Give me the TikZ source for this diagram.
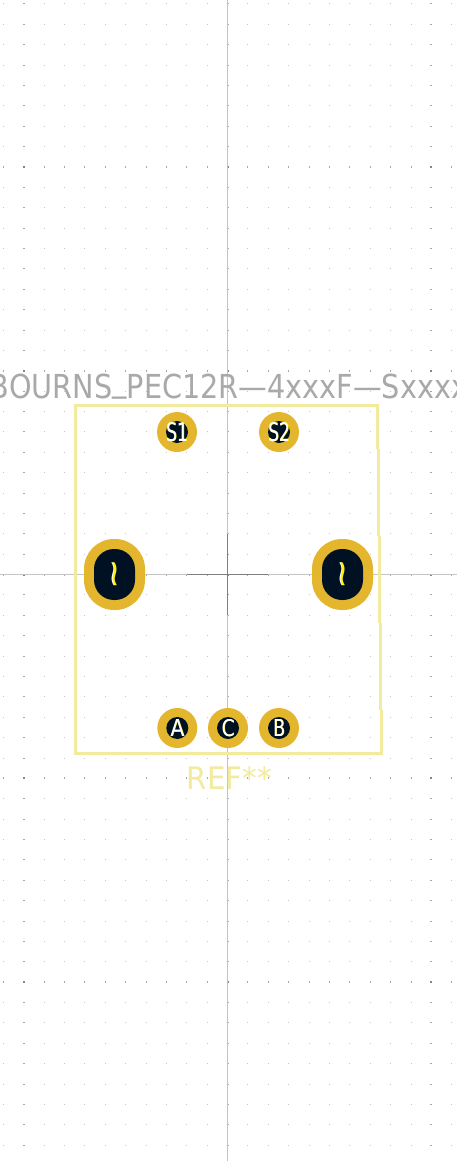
\documentclass[tikz,border=0pt]{standalone}
\usepackage{fontspec}
\setmainfont{DejaVu Sans}
\definecolor{gridc}{HTML}{C8C8C8}
\definecolor{gridm}{HTML}{A8A8A8}
\definecolor{gridx}{HTML}{858585}
\definecolor{axisc}{HTML}{C4C4C4}
\definecolor{axisd}{HTML}{808080}
\definecolor{silk}{HTML}{F2EA9C}
\definecolor{padc}{HTML}{E3B62D}
\definecolor{holec}{HTML}{001124}
\definecolor{valc}{HTML}{A9A9A9}
\tikzset{
  x=1pt,y=-1pt,
  axisline/.style={draw=axisc,line width=1pt},
  crossline/.style={draw=axisd,line width=1pt},
  silkline/.style={draw=silk,line width=3.2pt,line cap=butt},
  padsmall/.style={circle,fill=padc,minimum size=40pt,inner sep=0pt,outer sep=0pt},
  padlarge/.style={rectangle,rounded corners=30pt,fill=padc,minimum width=61pt,minimum height=71pt,inner sep=0pt},
  holesmall/.style={circle,fill=holec,minimum size=22pt,inner sep=0pt},
  holelarge/.style={rectangle,rounded corners=20pt,fill=holec,minimum width=41pt,minimum height=51pt,inner sep=0pt},
  padname/.style={inner sep=0pt,font=\fontsize{24pt}{24pt}\selectfont},
  tildemark/.style={inner sep=0pt,rotate=90,font=\fontsize{27pt}{27pt}\selectfont},
}
\newcommand{\padlabel}[4]{%
  \node[padname,text=yellow] at ([xshift=.6pt]#1) {\resizebox{#3pt}{#4pt}{#2}};
  \node[padname,text=white] at (#1) {\resizebox{#3pt}{#4pt}{#2}};
}
\begin{document}
\begin{tikzpicture}
\useasboundingbox (0,0) rectangle (457,1161);
\fill[white] (0,0) rectangle (457,1161);
% grid
\foreach \i in {-11,...,11}{
  \foreach \j in {-28,...,28}{
    \pgfmathsetmacro{\px}{227.6+20.38*\i}
    \pgfmathsetmacro{\py}{574.6+20.38*\j}
    \pgfmathsetmacro{\fx}{floor(\px)}
    \pgfmathsetmacro{\fy}{floor(\py)}
    \pgfmathsetmacro{\rx}{round(\px)}
    \pgfmathsetmacro{\ry}{round(\py)}
    \pgfmathtruncatemacro{\mi}{mod(abs(\i),10)==0 ? 1 : 0}
    \pgfmathtruncatemacro{\mj}{mod(abs(\j),10)==0 ? 1 : 0}
    \ifnum\mi=1
      \ifnum\mj=1
        \fill[gridx] (\rx-1,\ry-1) rectangle (\rx+1,\ry+1);
      \else
        \fill[gridm] (\rx-1,\fy) rectangle (\rx+1,\fy+1);
      \fi
    \else
      \ifnum\mj=1
        \fill[gridm] (\fx,\ry-1) rectangle (\fx+1,\ry+1);
      \else
        \fill[gridc] (\fx,\fy) rectangle (\fx+1,\fy+1);
      \fi
    \fi
  }
}
% axes
\draw[axisline] (227.5,0) -- (227.5,1161);
\draw[axisline] (0,574.5) -- (457,574.5);
\draw[crossline] (187,574.5) -- (268,574.5);
\draw[crossline] (227.5,534) -- (227.5,615);
% texts
\node[text=valc,inner sep=0pt,anchor=base] (value) at (229,398) {\resizebox{478pt}{24.5pt}{BOURNS\raisebox{.2em}{\_}PEC12R—4xxxF—Sxxxx}};
\node[text=silk,inner sep=0pt,anchor=base] (ref) at (229.5,789) {\resizebox{85pt}{23pt}{REF**}};
% outline
\draw[silkline] (377.4,449) -- (377.4,405.7) -- (75.6,405.7) -- (75.6,753.3) -- (381.5,753.3) -- (381.5,710);
\draw[silkline] (378.3,449) -- (378.3,536);
\draw[silkline] (379.3,536) -- (379.3,623);
\draw[silkline] (380.5,623) -- (380.5,710);
% pads
\node[padsmall] (s1) at (177,432) {};
\node[padsmall] (s2) at (279,432) {};
\node[padsmall] (a) at (177.3,728) {};
\node[padsmall] (c) at (228,728) {};
\node[padsmall] (b) at (279,728) {};
\node[padlarge] (ml) at (114.5,574.5) {};
\node[padlarge] (mr) at (342.5,574.5) {};
\foreach \n in {s1,s2,a,c,b}{\node[holesmall] at (\n) {};}
\node[holelarge] at (ml) {};
\node[holelarge] at (mr) {};
\padlabel{s1}{S1}{22}{19}
\padlabel{s2}{S2}{22}{19}
\padlabel{a}{A}{14}{17}
\padlabel{c}{C}{13}{17}
\padlabel{b}{B}{12}{17}
\foreach \n in {ml,mr}{
  \node[tildemark,text=white] at ([xshift=2.9pt]\n) {\scalebox{1.35}[1]{\char`\~}};
  \node[tildemark,text=yellow] at ([xshift=4pt]\n) {\scalebox{1.35}[1]{\char`\~}};
}
\end{tikzpicture}
\end{document}
